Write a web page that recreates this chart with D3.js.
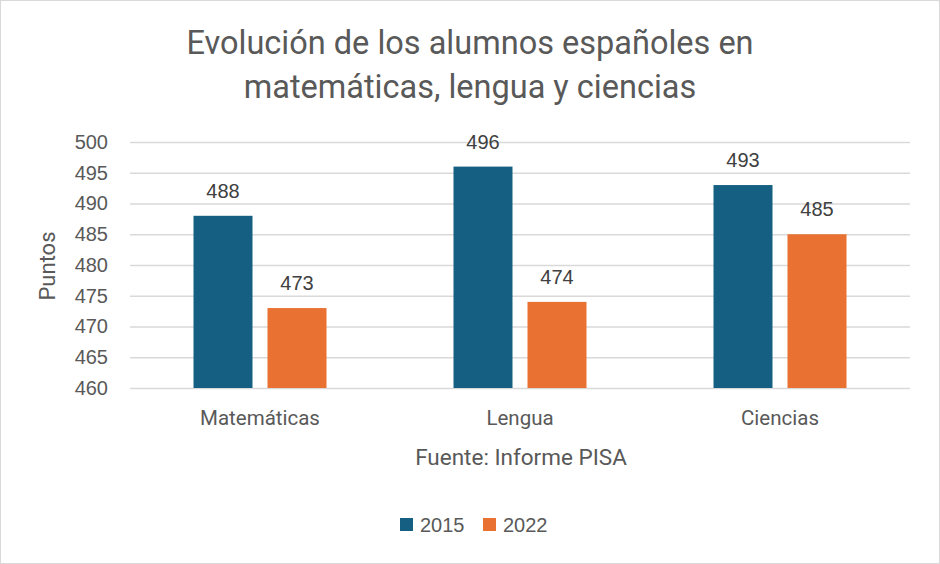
<!DOCTYPE html>
<html><head><meta charset="utf-8">
<script src="https://cdn.jsdelivr.net/npm/d3@7"></script>
<style>body{margin:0;background:#fff}svg{display:block}</style>
</head><body>
<svg id="c" width="940" height="564"></svg>
<script>
const categories = ["Matemáticas", "Lengua", "Ciencias"];
const seriesNames = ["2015", "2022"];
const values2015 = [488, 496, 493];
const values2022 = [473, 474, 485];
const yTicks = [460, 465, 470, 475, 480, 485, 490, 495, 500];
const colors = ["#156082", "#E97132"];
const titleLines = ["Evolución de los alumnos españoles en", "matemáticas, lengua y ciencias"];

const svg = d3.select("#c");
const W = 940, H = 564;
const txtFont = "Roboto, 'Liberation Sans', sans-serif";
const numFont = "'Liberation Sans', Arial, sans-serif";
const grey = "#595959";

svg.append("rect").attr("x",0.5).attr("y",0.5).attr("width",W-1).attr("height",H-1)
  .attr("fill","#fff").attr("stroke","#d9d9d9").attr("stroke-width",1);

const m = {left:130, right:910, top:142, bottom:388};
const x = d3.scaleBand().domain(categories).range([m.left, m.right]).paddingInner(0).paddingOuter(0);
const y = d3.scaleLinear().domain([460, 500]).range([m.bottom, m.top]);
const x1 = d3.scaleBand().domain(seriesNames).range([0, 133]).paddingInner(15/74).paddingOuter(0);

// title
svg.append("g").selectAll("text").data(titleLines).join("text")
  .attr("x", 470).attr("y", (d,i)=>54 + i*44)
  .attr("text-anchor","middle").attr("font-family",txtFont).attr("font-size",32.5)
  .attr("fill",grey).text(d=>d);

// grid
const yAxis = d3.axisLeft(y).tickValues(yTicks).tickSize(-(m.right-m.left)).tickPadding(22).tickFormat(d3.format("d"));
const gy = svg.append("g").attr("transform",`translate(${m.left},0)`).call(yAxis);
gy.select(".domain").remove();
gy.selectAll(".tick line").attr("stroke","#d9d9d9").attr("stroke-width",1.3);
gy.selectAll(".tick text").attr("font-family",numFont).attr("font-size",20).attr("fill",grey);

// bars
const series = [values2015, values2022];
const groups = svg.append("g").selectAll("g").data(series).join("g")
  .attr("fill",(d,i)=>colors[i]);
groups.selectAll("rect").data((d,i)=>d.map((v,j)=>({v, cat:categories[j], s:seriesNames[i]}))).join("rect")
  .attr("x", d => x(d.cat) + x.bandwidth()/2 - 66.5 + x1(d.s))
  .attr("width", x1.bandwidth())
  .attr("y", d => y(d.v))
  .attr("height", d => y(460) - y(d.v));

// data labels
groups.selectAll("text").data((d,i)=>d.map((v,j)=>({v, cat:categories[j], s:seriesNames[i]}))).join("text")
  .attr("x", d => x(d.cat) + x.bandwidth()/2 - 66.5 + x1(d.s) + x1.bandwidth()/2)
  .attr("y", d => y(d.v) - 18)
  .attr("text-anchor","middle").attr("font-family",numFont).attr("font-size",20)
  .attr("fill","#404040").text(d=>d.v);

// category labels
const xAxis = d3.axisBottom(x).tickSize(0).tickPadding(0);
const gx = svg.append("g").attr("transform",`translate(0,${m.bottom})`).call(xAxis);
gx.select(".domain").remove();
gx.selectAll(".tick text").attr("dy",null).attr("y",37).attr("font-family",txtFont).attr("font-size",20.5).attr("fill",grey);

// x axis title
svg.append("text").attr("x", (m.left+m.right)/2 + 1).attr("y",465).attr("text-anchor","middle")
  .attr("font-family",txtFont).attr("font-size",22.5).attr("fill",grey).text("Fuente: Informe PISA");

// y axis title
svg.append("text").attr("transform","translate(55,266) rotate(-90)").attr("text-anchor","middle")
  .attr("font-family",txtFont).attr("font-size",22).attr("fill",grey).text("Puntos");

// legend
const lg = svg.append("g").selectAll("g").data(seriesNames).join("g")
  .attr("transform",(d,i)=>`translate(${400 + i*83},518)`);
lg.append("rect").attr("width",13).attr("height",13).attr("fill",(d,i)=>colors[i]);
lg.append("text").attr("x",20).attr("y",14).attr("font-family",numFont).attr("font-size",20).attr("fill",grey).text(d=>d);
</script>
</body></html>
